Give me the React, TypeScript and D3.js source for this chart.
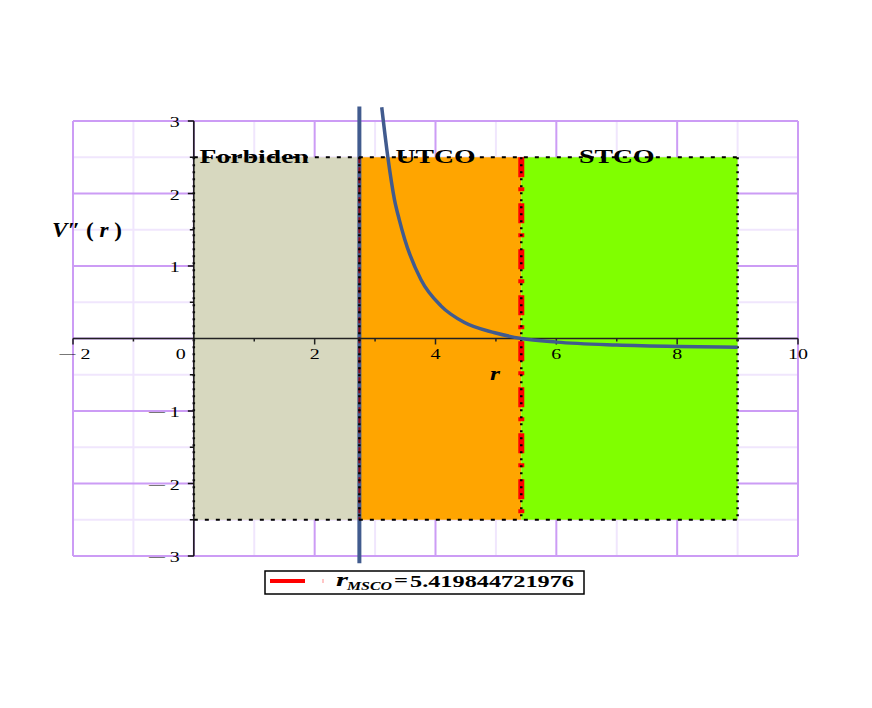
import React from 'react';
import * as d3 from 'd3';

// V''(r) curve
const rValues = [3.11, 3.21, 3.32, 3.40, 3.49, 3.76, 4.09, 4.48, 4.98, 5.42, 6.0, 7.0, 8.0, 9.0];
const vValues = [3.19, 2.51, 1.92, 1.64, 1.37, 0.81, 0.45, 0.22, 0.08, 0.0, -0.05, -0.09, -0.11, -0.12];

// regions
const regionNames = ['Forbiden', 'UTCO', 'STCO'];
const regionStart = [0, 2.74, 5.42];
const regionEnd = [2.74, 5.42, 9];
const regionLabelR = [1, 4, 7];
const regionColors = ['#d7d8bf', '#ffa500', '#80ff00'];
const regionTop = 2.5;
const regionBottom = -2.5;

const rPhoton = 2.74;
const rMSCO = 5.419844721976;
const legendValue = '5.419844721976';

const xTicks = [-2, 0, 2, 4, 6, 8, 10];
const xMinor = [-1, 1, 3, 5, 7, 9];
const yTicks = [-3, -2, -1, 1, 2, 3];
const yGridMajor = [-3, -2, -1, 0, 1, 2, 3];
const yMinor = [-2.5, -1.5, -0.5, 0.5, 1.5, 2.5];

const FONT = "'Liberation Serif', 'Times New Roman', serif";
const MAJOR = '#cc9cf5';
const MINOR = '#f0e6fd';
const BLUE = '#415b8e';

function Num({ v }: { v: number }) {
  if (v >= 0) return <>{String(v)}</>;
  return (
    <>
      <tspan fontSize={12} dy={-2}>{'\u2014'}</tspan>
      <tspan dy={2}>{' ' + Math.abs(v)}</tspan>
    </>
  );
}

function SText(props: any) {
  const { x, y, sx = 1.33, anchor = 'middle', size = 15, weight = 'normal', children } = props;
  return (
    <text transform={`translate(${x},${y}) scale(${sx},1)`} textAnchor={anchor}
      fontSize={size} fontWeight={weight} fontFamily={FONT} fill="#000">{children}</text>
  );
}

export default function App() {
  const x = d3.scaleLinear().domain([-2, 10]).range([73, 798]);
  const y = d3.scaleLinear().domain([-3, 3]).range([556, 121]);

  const pts = rValues.map((r, i) => [r, vValues[i]] as [number, number]);
  const line = d3.line<[number, number]>()
    .x(d => x(d[0]))
    .y(d => y(d[1]))
    .curve(d3.curveMonotoneX);

  return (
    <svg width={872} height={708} style={{ position: 'absolute', left: 0, top: 0 }}>
      <rect width={872} height={708} fill="#fff" />

      {/* grid */}
      {xMinor.map(v => <line key={'xm' + v} x1={x(v)} x2={x(v)} y1={y(3)} y2={y(-3)} stroke={MINOR} strokeWidth={2} />)}
      {yMinor.map(v => <line key={'ym' + v} x1={x(-2)} x2={x(10)} y1={y(v)} y2={y(v)} stroke={MINOR} strokeWidth={2} />)}
      {xTicks.map(v => <line key={'xg' + v} x1={x(v)} x2={x(v)} y1={y(3)} y2={y(-3)} stroke={MAJOR} strokeWidth={2} />)}
      {yGridMajor.map(v => <line key={'yg' + v} x1={x(-2)} x2={x(10)} y1={y(v)} y2={y(v)} stroke={MAJOR} strokeWidth={2} />)}

      {/* regions */}
      {regionNames.map((n, i) => (
        <rect key={n} x={x(regionStart[i])} y={y(regionTop)}
          width={x(regionEnd[i]) - x(regionStart[i])} height={y(regionBottom) - y(regionTop)}
          fill={regionColors[i]} />
      ))}

      {/* r_MSCO line */}
      <line x1={x(rMSCO)} x2={x(rMSCO)} y1={y(regionTop)} y2={y(regionBottom)}
        stroke="#ff0000" strokeWidth={6} strokeDasharray="20,10,4,12" />

      {/* photon / boundary line */}
      <line x1={x(rPhoton)} x2={x(rPhoton)} y1={y(3.2)} y2={y(-3.1)} stroke={BLUE} strokeWidth={4} />
      <line x1={x(rPhoton)} x2={x(rPhoton)} y1={y(regionTop)} y2={y(regionBottom)}
        stroke="#8b0a1a" strokeWidth={2} strokeDasharray="6,4" />

      {/* dotted region borders */}
      {[regionTop, regionBottom].map(v => (
        <line key={'hb' + v} x1={x(0)} x2={x(9)} y1={y(v)} y2={y(v)}
          stroke="#000" strokeWidth={2} strokeDasharray="4,7" />
      ))}
      {[0, rPhoton, rMSCO, 9].map(v => (
        <line key={'vb' + v} x1={x(v)} x2={x(v)} y1={y(regionTop)} y2={y(regionBottom)}
          stroke="#000" strokeWidth={2.5} strokeDasharray="2,5" />
      ))}

      {/* axes */}
      <line x1={x(-2)} x2={x(10)} y1={y(0)} y2={y(0)} stroke="#222" strokeWidth={1.5} />
      <line x1={x(0)} x2={x(0)} y1={y(3)} y2={y(-3)} stroke="#111" strokeWidth={1.5} />
      {xTicks.map(v => <line key={'xt' + v} x1={x(v)} x2={x(v)} y1={y(0)} y2={y(0) + 6} stroke="#222" strokeWidth={1.5} />)}
      {xMinor.map(v => <line key={'xmt' + v} x1={x(v)} x2={x(v)} y1={y(0)} y2={y(0) + 3} stroke="#222" strokeWidth={1.5} />)}
      {yTicks.map(v => <line key={'yt' + v} x1={x(0) - 6} x2={x(0)} y1={y(v)} y2={y(v)} stroke="#111" strokeWidth={1.5} />)}
      {yMinor.map(v => <line key={'ymt' + v} x1={x(0) - 4} x2={x(0)} y1={y(v)} y2={y(v)} stroke="#111" strokeWidth={1.5} />)}

      {xTicks.map(v => (
        <SText key={'xl' + v} x={v === 0 ? x(v) - 13 : x(v) + (v < 0 ? 2 : 0)} y={y(0) + 20}><Num v={v} /></SText>
      ))}
      {yTicks.map(v => (
        <SText key={'yl' + v} x={x(0) - 14} y={y(v) + 6} anchor="end"><Num v={v} /></SText>
      ))}

      {/* curve */}
      <path d={line(pts) || ''} fill="none" stroke={BLUE} strokeWidth={3.5} />

      {/* region labels */}
      {regionNames.map((n, i) => (
        <SText key={'rl' + n} x={x(regionLabelR[i])} y={y(regionTop) + 6} size={18.5} weight="bold" sx={1.5}>{n}</SText>
      ))}

      {/* axis labels */}
      <text x={52} y={237} fontFamily={FONT} fontSize={20} fontWeight="bold" textLength={70} lengthAdjust="spacingAndGlyphs">
        <tspan fontStyle="italic">V</tspan>
        <tspan>{'\u2033 ( '}</tspan>
        <tspan fontStyle="italic">r</tspan>
        <tspan>{' )'}</tspan>
      </text>
      <text x={490} y={380} fontFamily={FONT} fontSize={19} fontWeight="bold" fontStyle="italic"
        textLength={10} lengthAdjust="spacingAndGlyphs">r</text>

      {/* legend */}
      <rect x={265} y={571} width={319} height={23} fill="#fff" stroke="#000" strokeWidth={1.5} />
      <line x1={270} x2={305} y1={581} y2={581} stroke="#ff0000" strokeWidth={4} />
      <rect x={322} y={579} width={2} height={4} fill="#ffc6c6" />
      <text x={336} y={586} fontFamily={FONT} fontSize={19} fontWeight="bold" fontStyle="italic"
        textLength={12} lengthAdjust="spacingAndGlyphs">r</text>
      <text x={347} y={590} fontFamily={FONT} fontSize={12.5} fontWeight="bold" fontStyle="italic"
        textLength={45} lengthAdjust="spacingAndGlyphs">MSCO</text>
      <text x={394} y={586} fontFamily={FONT} fontSize={16} fontWeight="bold"
        textLength={14} lengthAdjust="spacingAndGlyphs">=</text>
      <text x={410} y={587} fontFamily={FONT} fontSize={16.5} fontWeight="bold"
        textLength={164} lengthAdjust="spacingAndGlyphs">{legendValue}</text>
    </svg>
  );
}
